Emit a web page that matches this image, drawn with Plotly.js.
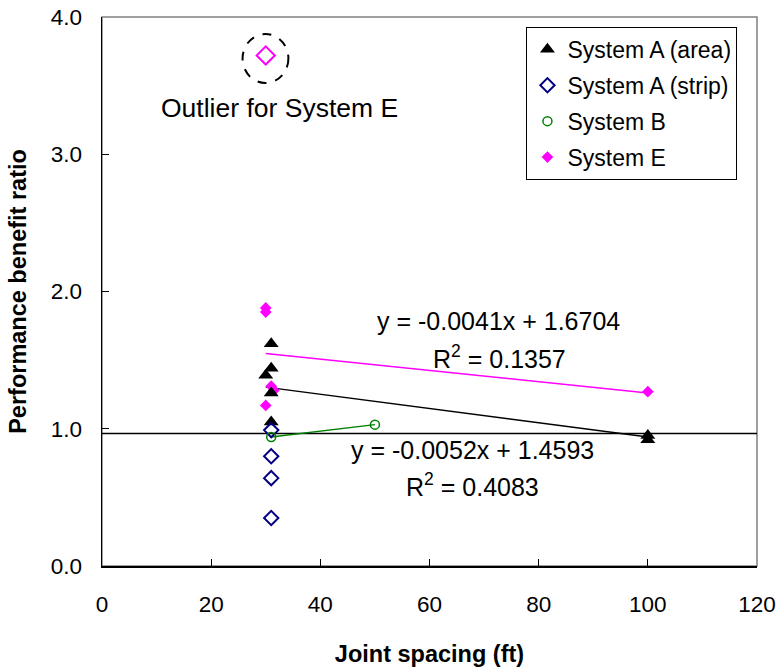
<!DOCTYPE html>
<html>
<head>
<meta charset="utf-8">
<script src="https://cdn.plot.ly/plotly-3.0.1.min.js"></script>
<style>html,body{margin:0;padding:0;background:#fff;}#chart{width:780px;height:672px;}</style>
</head>
<body>
<div id="chart"></div>
<script>
// Data
const areaX = [31, 31, 30, 31, 31, 100, 100];
const areaY = [1.62, 1.44, 1.39, 1.26, 1.05, 0.95, 0.92];
const stripX = [31, 31, 31, 31];
const stripY = [0.99, 0.80, 0.64, 0.35];
const sysBX = [31, 50];
const sysBY = [0.94, 1.03];
const sysEX = [30, 30, 30, 31, 31.5, 100];
const sysEY = [1.88, 1.85, 1.17, 1.31, 1.28, 1.27];
const outlierX = [30];
const outlierY = [3.72];
const refLineY = 0.965;
const trendE = {slope: -0.0041, intercept: 1.6704, r2: '0.1357', xs: [30, 100]};
const trendA = {slope: -0.0052, intercept: 1.4593, r2: '0.4083', xs: [30, 100]};
const xTicks = [0, 20, 40, 60, 80, 100, 120];
const yTicks = [0, 1, 2, 3, 4];

const FONT = 'Liberation Sans, Arial, sans-serif';
const lineFrom = t => t.xs.map(x => t.slope * x + t.intercept);
const fmt = v => (v < 0 ? '-' : '') + Math.abs(v).toFixed(4);

const traces = [
  {x: [0, 120], y: [refLineY, refLineY], mode: 'lines', line: {color: '#000', width: 1.5}, showlegend: false, hoverinfo: 'skip'},
  {x: trendA.xs, y: lineFrom(trendA), mode: 'lines', line: {color: '#000', width: 1.5}, showlegend: false},
  {x: trendE.xs, y: lineFrom(trendE), mode: 'lines', line: {color: '#ff00ff', width: 1.5}, showlegend: false},
  {x: sysBX, y: sysBY, mode: 'lines', line: {color: '#008000', width: 1.5}, showlegend: false},
  {x: sysEX, y: sysEY, mode: 'markers', name: 'System E', legendgroup: 'e', legendrank: 4,
   marker: {symbol: 'diamond', color: '#ff00ff', size: 9}},
  {x: areaX, y: areaY, mode: 'markers', name: 'System A (area)', legendgroup: 'a', legendrank: 1,
   marker: {symbol: 'triangle-up', color: '#000', size: 13}},
  {x: stripX, y: stripY, mode: 'markers', name: 'System A (strip)', legendgroup: 's', legendrank: 2,
   marker: {symbol: 'diamond-open', color: '#000080', size: 11, line: {width: 2, color: '#000080'}}},
  {x: sysBX, y: sysBY, mode: 'markers', name: 'System B', legendgroup: 'b', legendrank: 3,
   marker: {symbol: 'circle-open', color: '#008000', size: 9, line: {width: 1.5, color: '#008000'}}},
  {x: outlierX, y: outlierY, mode: 'markers', showlegend: false,
   marker: {symbol: 'diamond-open', color: '#ff00ff', size: 14, line: {width: 2, color: '#ff00ff'}}}
];

const layout = {
  width: 780, height: 672,
  margin: {l: 102, r: 23, t: 17, b: 106},
  paper_bgcolor: '#fff', plot_bgcolor: '#fff',
  font: {family: FONT, color: '#000', size: 22},
  showlegend: true,
  legend: {x: 0.648, y: 0.982, xanchor: 'left', yanchor: 'top', bordercolor: '#000', borderwidth: 1,
           bgcolor: '#fff', font: {family: FONT, size: 23}, traceorder: 'grouped', tracegroupgap: 3, itemwidth: 30},
  xaxis: {range: [0, 120], tickvals: xTicks, ticktext: xTicks.map(String), ticks: 'inside', ticklen: 7, tickcolor: '#000',
          showline: true, linecolor: '#000', linewidth: 1.5, showgrid: false, zeroline: false,
          tickfont: {family: FONT, size: 22.5}, ticklabelstandoff: 17,
          title: {text: '<b>Joint spacing (ft)</b>', font: {family: FONT, size: 23.5}, standoff: 30}},
  yaxis: {range: [0, 4], tickvals: yTicks, ticktext: yTicks.map(v => v.toFixed(1)), ticks: 'inside', ticklen: 7, tickcolor: '#000',
          showline: true, linecolor: '#000', linewidth: 1.5, showgrid: false, zeroline: false,
          tickfont: {family: FONT, size: 22.5}, ticklabelstandoff: 14,
          title: {text: '<b>Performance benefit ratio</b>', font: {family: FONT, size: 23.5}, standoff: 17}},
  shapes: [
    {type: 'rect', xref: 'paper', yref: 'paper', x0: 0, x1: 1, y0: 0, y1: 1, line: {color: '#808080', width: 1.5}, layer: 'below'},
    {type: 'circle', xref: 'x', yref: 'y', x0: 25.75, x1: 34.15, y0: 3.519, y1: 3.876, line: {color: '#000', width: 2, dash: 'dash'}}
  ],
  annotations: [
    {x: 32.6, y: 3.337, xref: 'x', yref: 'y', text: 'Outlier for System E', showarrow: false, font: {family: FONT, size: 26.5}},
    {x: 72.7, y: 1.785, xref: 'x', yref: 'y', text: 'y = ' + fmt(trendE.slope) + 'x + ' + trendE.intercept.toFixed(4), showarrow: false, font: {family: FONT, size: 25}},
    {x: 72.9, y: 1.523, xref: 'x', yref: 'y', text: 'R<sup>2</sup> = ' + trendE.r2, showarrow: false, font: {family: FONT, size: 25}},
    {x: 67.8, y: 0.845, xref: 'x', yref: 'y', text: 'y = ' + fmt(trendA.slope) + 'x + ' + trendA.intercept.toFixed(4), showarrow: false, font: {family: FONT, size: 25}},
    {x: 67.9, y: 0.59, xref: 'x', yref: 'y', text: 'R<sup>2</sup> = ' + trendA.r2, showarrow: false, font: {family: FONT, size: 25}}
  ]
};

Plotly.newPlot('chart', traces, layout, {displayModeBar: false, staticPlot: true});
</script>
</body>
</html>
